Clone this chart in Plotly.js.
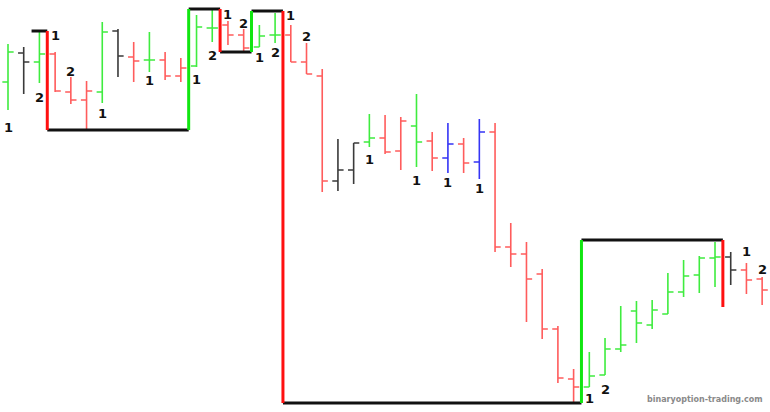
<!DOCTYPE html>
<html>
<head>
<meta charset="utf-8">
<script src="https://cdn.plot.ly/plotly-3.0.1.min.js"></script>
<style>
html,body{margin:0;padding:0;background:#fff;}
#chart{width:770px;height:412px;}
</style>
</head>
<body>
<div id="chart"></div>
<script>
// Bar index (time), OHLC values
const barIndex = [0,1,2,3,4,5,6,7,8,9,10,11,12,13,14,15,16,17,18,19,20,21,22,23,24,25,26,27,28,29,30,31,32,33,34,35,36,37,38,39,40,41,42,43,44,45,46,47,48];
const barColorGroup = ['g','k','g','r','r','r','g','k','r','g','r','r','g','g','r','r','g','g','r','r','r','k','k','g','r','r','g','r','b','r','b','r','r','r','r','r','r','g','g','g','g','g','g','g','g','g','k','r','r'];
const openVals  = [330,359,350,358,320,312,320,381,355,352,352,336,346,384,387,377,365,377,377,350,336,231,242,270,274,261,286,271,254,268,250,280,165,158,138,83,33,25,37,63,101,87,98,120,137,154,155,142,133];
const highVals  = [368,365,381,360,335,331,390,383,370,380,360,354,397,402,391,383,387,399,387,369,343,273,269,298,297,295,318,280,289,274,293,289,189,170,143,86,43,60,74,106,111,112,139,152,156,170,160,149,135];
const lowVals   = [302,318,329,320,308,282,309,335,330,340,332,330,345,370,367,361,365,369,350,338,220,221,228,265,258,242,245,241,239,239,233,160,145,90,73,29,9,25,37,60,69,83,98,115,119,125,127,118,107];
const closeVals = [360,350,358,321,312,321,380,356,351,352,336,344,385,384,377,364,376,377,350,338,231,242,269,274,260,291,270,254,268,249,280,165,158,133,83,34,25,36,63,67,89,102,120,136,154,155,142,132,122];

// Swing chart: breakpoints (between bars) and the levels held between them
const swingX     = [1.5, 2.5, 11.5, 13.5, 15.5, 17.5, 36.5, 45.5];
const swingLevel = [381, 282, 403, 360, 401, 9, 172, 105];

// Swing count labels
const labelBar   = [0,2,3,4,6,9,12,13,14,15,16,17,18,19,23,26,28,30,37,38,47,48];
const labelText  = ['1','2','1','2','1','1','1','2','1','2','1','2','1','2','1','1','1','1','1','2','1','2'];
const labelPrice = [285,315,377,341,299,332,333,357,398,389,355,360,397,376,253,232,230,224,14,23,161,143];

const colorMap = {g:'#3fec3f', r:'#ff5c5c', k:'#3a3a3a', b:'#3535f5'};
const traces = [];
['r','g','k','b'].forEach(function(key){
  const x=[],o=[],h=[],l=[],c=[];
  barIndex.forEach(function(i){
    if(barColorGroup[i]===key){ x.push(i); o.push(openVals[i]); h.push(highVals[i]); l.push(lowVals[i]); c.push(closeVals[i]); }
  });
  traces.push({
    type:'ohlc', x:x, open:o, high:h, low:l, close:c,
    tickwidth:0.36,
    increasing:{line:{color:colorMap[key], width:1.6}},
    decreasing:{line:{color:colorMap[key], width:1.6}},
    hoverinfo:'skip', showlegend:false
  });
});

// swing lines
const hx=[],hy=[],ux=[],uy=[],dx=[],dy=[];
for(let k=0;k<swingX.length;k++){
  if(k<swingX.length-1){
    hx.push(swingX[k],swingX[k+1],null); hy.push(swingLevel[k],swingLevel[k],null);
  }
  if(k>=1){
    const from = swingLevel[k-1], to = swingLevel[k];
    if(to>from){ ux.push(swingX[k],swingX[k],null); uy.push(from,to,null); }
    else { dx.push(swingX[k],swingX[k],null); dy.push(from,to,null); }
  }
}
traces.push({type:'scatter',mode:'lines',x:hx,y:hy,line:{color:'#111111',width:3},hoverinfo:'skip',showlegend:false});
traces.push({type:'scatter',mode:'lines',x:ux,y:uy,line:{color:'#11e611',width:3},hoverinfo:'skip',showlegend:false});
traces.push({type:'scatter',mode:'lines',x:dx,y:dy,line:{color:'#ff1010',width:3},hoverinfo:'skip',showlegend:false});

const annotations = labelBar.map(function(b,i){
  return {x:b, y:labelPrice[i], showarrow:false, xref:'x', yref:'y',
    font:{family:'DejaVu Sans, Verdana, sans-serif', size:13, color:'#111'}, xanchor:'center', yanchor:'middle',
    text:'<b>'+labelText[i]+'</b>'};
});
annotations.push({xref:'paper', yref:'paper', x:0.993, y:0.03, xanchor:'right', yanchor:'middle', showarrow:false,
  text:'<b>binaryoption-trading.com</b>', font:{family:'DejaVu Sans, sans-serif', size:8, color:'#8a8a8a'}});

const layout = {
  width:770, height:412,
  margin:{l:0,r:0,t:0,b:0},
  paper_bgcolor:'#ffffff', plot_bgcolor:'#ffffff',
  showlegend:false,
  xaxis:{range:[-0.509,48.5], visible:false, rangeslider:{visible:false}, fixedrange:true},
  yaxis:{range:[0,412], visible:false, fixedrange:true},
  annotations:annotations
};
Plotly.newPlot('chart', traces, layout, {staticPlot:true, displayModeBar:false});
</script>
</body>
</html>
